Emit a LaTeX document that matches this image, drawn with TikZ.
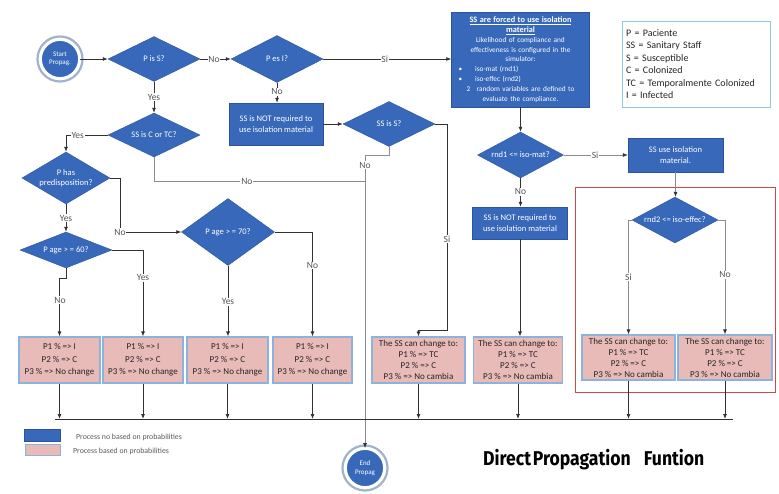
\documentclass[tikz,border=0pt]{standalone}
\usepackage{fontspec}
\setmainfont{Carlito}
\newfontfamily\titlefont{Fira Sans}
\usepackage{graphicx}
\usetikzlibrary{shapes.geometric,arrows.meta,calc}

\definecolor{flowblue}{RGB}{56,104,186}
\definecolor{flowedge}{RGB}{44,84,156}
\definecolor{probfill}{RGB}{232,186,184}
\definecolor{probedge}{RGB}{140,178,222}
\definecolor{framered}{RGB}{204,72,70}
\definecolor{keyedge}{RGB}{140,200,222}
\definecolor{ringgray}{RGB}{160,178,204}
\definecolor{linedark}{RGB}{50,50,50}
\definecolor{linelight}{RGB}{140,140,140}
\definecolor{labelgray}{RGB}{85,85,85}

\tikzset{
  decision/.style={diamond, aspect=2, inner sep=-3pt, fill=flowblue, draw=flowedge,
    line width=0.4pt, text=white, font=\fontsize{8.5}{10}\selectfont, align=center},
  process/.style={rectangle, inner sep=1pt, fill=flowblue, draw=flowedge,
    line width=0.4pt, text=white, font=\fontsize{8.5}{11.5}\selectfont, align=center},
  probbox/.style={rectangle, inner sep=0pt, fill=probfill, draw=probedge,
    line width=1.2pt, text=black!85, align=center},
  terminal/.style={circle, fill=flowblue, draw=white, line width=1.8pt,
    minimum size=38pt, inner sep=0pt, text=white,
    font=\fontsize{7}{8.5}\selectfont, align=center},
  ring/.style={draw=ringgray, line width=2.2pt},
  flow/.style={draw=linedark, line width=0.8pt},
  flowarrow/.style={flow, -{Latex[length=5pt,width=4pt]}},
  soft/.style={draw=linelight, line width=0.7pt},
  softarrow/.style={soft, -{Latex[length=5pt,width=4pt,color=linedark]}},
  tag/.style={fill=white, inner sep=0.8pt, text=labelgray,
    font=\fontsize{9.5}{10}\selectfont},
  threeline/.style={probbox, font=\fontsize{9}{12.5}\selectfont},
  fourline/.style={probbox, font=\fontsize{9}{11}\selectfont},
  keytext/.style={anchor=west, inner sep=0pt, text=black!65,
    font=\fontsize{7.8}{8}\selectfont},
}

\begin{document}
\begin{tikzpicture}[x=1pt,y=-1pt]
\useasboundingbox (0,0) rectangle (779,493);

% ---------- top row ----------
\node[terminal] (start) at (60,59) {Start\\Propag.};
\draw[ring] (start.center) circle (22.5pt);

\node[decision, minimum width=92pt, minimum height=45pt] (isS) at (154,59) {P is S?};
\node[decision, minimum width=92pt, minimum height=47pt] (isI) at (277,59) {P es I?};

\node[process, minimum width=138pt, minimum height=95pt, text width=134pt,
      font=\fontsize{7.3}{9.8}\selectfont] (forced) at (520.5,59.5) {%
  {\bfseries\fontsize{8.3}{10}\selectfont\underline{SS are forced to use isolation}}\\
  {\bfseries\fontsize{8.3}{10}\selectfont\underline{material}}\\
  Likelihood of compliance and\\
  effectiveness is configured in the\\
  simulator:\\
  \makebox[128pt][l]{\hspace{2pt}\textbullet\hspace{13pt}iso-mat (rnd1)}\\
  \makebox[128pt][l]{\hspace{2pt}\textbullet\hspace{13pt}iso-effec (rnd2)}\\
  2\hspace{4pt} random variables are defined to\\
  evaluate the compliance.};

\node[draw=keyedge, line width=1pt, fill=white, minimum width=148pt,
      minimum height=86pt, text width=140pt, inner sep=4pt, align=left,
      text=black!85, font=\fontsize{10}{12.5}\selectfont] (abbrev) at (696,64) {%
  P = Paciente\\
  SS = Sanitary Staff\\
  S = Susceptible\\
  C = Colonized\\
  TC = Temporalmente Colonized\\
  I = Infected};

% ---------- decisions and processes ----------
\node[process, minimum width=94pt, minimum height=42pt] (notreqA) at (276,124)
  {SS is NOT required to\\use isolation material};
\node[decision, minimum width=92pt, minimum height=45pt] (ssS) at (389,124) {SS is S?};
\node[decision, minimum width=92pt, minimum height=44pt] (cTC) at (154,135) {SS is C or TC?};
\node[decision, minimum width=88pt, minimum height=52pt] (pred) at (66,178) {P has\\predisposition?};
\node[decision, minimum width=92pt, minimum height=36pt] (ageA) at (66,250) {P age > = 60?};
\node[decision, minimum width=93pt, minimum height=67pt] (ageB) at (228,232) {P age > = 70?};

\node[decision, minimum width=86pt, minimum height=46pt] (rndA) at (520.5,155) {rnd1 <= iso-mat?};
\node[process, minimum width=95pt, minimum height=34pt] (useiso) at (675.5,155)
  {SS use isolation\\material.};
\node[process, minimum width=95pt, minimum height=32pt] (notreqB) at (520,223)
  {SS is NOT required to\\use isolation material};

\node[draw=framered, line width=1pt, minimum width=200pt, minimum height=205pt]
  (frame) at (675,289.5) {};
\node[decision, minimum width=86pt, minimum height=46pt] (rndB) at (675,220) {rnd2 <= iso-effec?};

% ---------- outcome boxes ----------
\node[threeline, minimum width=81pt, minimum height=46pt] (outA) at (59.5,360)
  {P1 \% => I\\P2 \% => C\\P3 \% => No change};
\node[threeline, minimum width=80pt, minimum height=46pt] (outB) at (143,360)
  {P1 \% => I\\P2 \% => C\\P3 \% => No change};
\node[threeline, minimum width=81pt, minimum height=46pt] (outC) at (227.5,360)
  {P1 \% => I\\P2 \% => C\\P3 \% => No change};
\node[threeline, minimum width=79pt, minimum height=46pt] (outD) at (312.5,360)
  {P1 \% => I\\P2 \% => C\\P3 \% => No change};
\node[fourline, minimum width=93pt, minimum height=46pt] (outE) at (418.5,360)
  {The SS can change to:\\P1 \% => TC\\P2 \% => C\\P3 \% => No cambia};
\node[fourline, minimum width=89pt, minimum height=46pt] (outF) at (518,360)
  {The SS can change to:\\P1 \% => TC\\P2 \% => C\\P3 \% => No cambia};
\node[fourline, minimum width=93pt, minimum height=45pt] (outG) at (628.5,357.5)
  {The SS can change to:\\P1 \% => TC\\P2 \% => C\\P3 \% => No cambia};
\node[fourline, minimum width=94pt, minimum height=45pt] (outH) at (725,357.5)
  {The SS can change to:\\P1 \% => TC\\P2 \% => C\\P3 \% => No cambia};

\node[terminal] (finish) at (365,468) {End\\Propag};
\draw[ring] (finish.center) circle (22.5pt);

% ---------- bend points ----------
\coordinate (noJoin) at (365,155);
\coordinate (cJoin) at (365,181);
\coordinate (siBend) at (447,330);
\coordinate (predBend) at (120,232);
\coordinate (busL) at (55,419);
\coordinate (busR) at (733,419);

% ---------- connectors ----------
\draw[flowarrow] (start) -- (isS);
\draw[flowarrow] (isS.east) -- node[tag, pos=0.45] {No} (isI.west);
\draw[flowarrow] (isI.east) -- node[tag, pos=0.48] {Si} (isI.east -| forced.west);
\draw[flowarrow] (isS.south) -- node[tag, pos=0.5] {Yes} (cTC.north);
\draw[flowarrow] (isI.south) -- node[tag, pos=0.45] {No} (isI.south |- notreqA.north);
\draw[flowarrow] (notreqA.east) -- (ssS.west);

\draw[flowarrow] (ssS.east) -| node[tag, pos=0.78] {Si} (siBend) -| (outE.north);
\draw[soft] (ssS.south) |- (noJoin);
\draw[softarrow] (noJoin) -- node[tag, pos=0.035] {No} (finish.north);
\draw[soft] (cTC.south) |- node[tag, pos=0.72] {No} (cJoin);

\draw[flowarrow] (cTC.west) -| node[tag, pos=0.36] {Yes} (pred.north);
\draw[flowarrow] (pred.south) -- node[tag, pos=0.5] {Yes} (ageA.north);
\draw[flowarrow] (pred.east) -| (predBend) node[tag] {No} -- (ageB.west);

\draw[flowarrow] (ageA.south) -- ++(0,10) -| (outA.north);
\node[tag] at (60,300) {No};
\draw[flowarrow] (ageA.east) -| node[tag, pos=0.66] {Yes} (outB.north);
\draw[flowarrow] (ageB.south) -- node[tag, pos=0.51] {Yes} (ageB.south |- outC.north);
\draw[flowarrow] (ageB.east) -| node[tag, pos=0.66] {No} (outD.north);

\draw[flowarrow] (forced.south) -- (forced.south |- rndA.north);
\draw[softarrow] (rndA.east) -- node[tag, pos=0.49] {Si} (rndA.east -| useiso.west);
\draw[flowarrow] (rndA.south) -- node[tag, pos=0.48] {No} (rndA.south |- notreqB.north);
\draw[flowarrow] (notreqB.south) -- (notreqB.south |- outF.north);
\draw[softarrow] (useiso.south) -- (useiso.south |- rndB.north);
\draw[softarrow] (rndB.west) -| node[tag, pos=0.75] {Si} (outG.north);
\draw[softarrow] (rndB.east) -| node[tag, pos=0.74] {No} (outH.north);

% ---------- collector line ----------
\draw[flow] (busL) -- (busR);
\foreach \outbox in {outA,outB,outC,outD,outE,outF,outG,outH}
  \draw[flowarrow] (\outbox.south) -- (\outbox.south |- busL);

% ---------- legend ----------
\node[fill=flowblue, draw=flowedge, line width=0.4pt, minimum width=36pt,
      minimum height=12pt, inner sep=0pt] (keyBlue) at (42,435) {};
\node[fill=probfill, draw=probedge, line width=0.8pt, minimum width=35pt,
      minimum height=11pt, inner sep=0pt] (keyPink) at (42.5,449.5) {};
\node[keytext] (keyBlueText) at (76,437) {Process no based on probabilities};
\node[keytext] (keyPinkText) at (73,451) {Process based on probabilities};

% ---------- title ----------
\node[anchor=west, inner sep=0pt, text=black] (title) at (483,460)
  {\scalebox{0.88}[1]{\titlefont\bfseries\fontsize{20}{22}\selectfont Direct\hspace{2pt}Propagation\hspace{15pt}Funtion}};
\end{tikzpicture}
\end{document}
